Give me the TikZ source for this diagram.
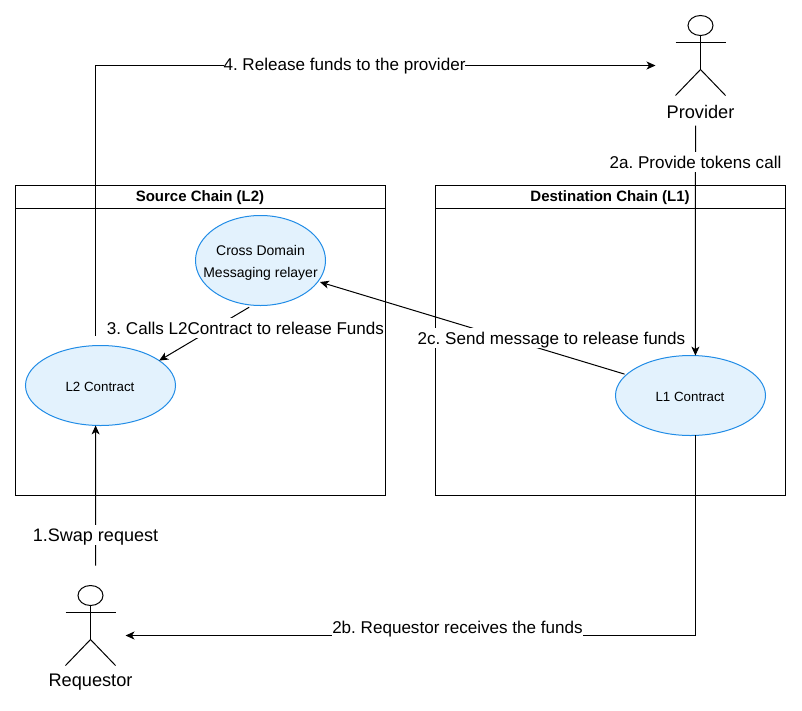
\documentclass[tikz,border=0pt]{standalone}
\usepackage{fontspec}
\setmainfont{Liberation Sans}
\usetikzlibrary{shapes.geometric, arrows.meta}
\definecolor{ChainFill}{RGB}{227,242,253}
\definecolor{ChainEdge}{RGB}{33,140,230}
\frenchspacing
\begin{document}
\begin{tikzpicture}[x=1pt, y=-1pt, shift={(0.5,0.5)},
          lane/.style={rectangle, draw=black, line width=1pt, inner sep=0pt, outer sep=0pt},
          lanetitle/.style={font=\fontsize{15}{17}\selectfont\bfseries, inner sep=0pt},
          contract/.style={ellipse, draw=ChainEdge, fill=ChainFill, line width=1pt, inner sep=0pt, outer sep=0pt},
          contracttext/.style={align=center, inner sep=0pt, font=\fontsize{13.33}{22}\selectfont},
          actor/.style={rectangle, minimum width=50pt, minimum height=80pt, inner sep=0pt, outer sep=0pt},
          actorlabel/.style={font=\fontsize{18.2}{21}\selectfont, inner sep=0pt},
          steplabel/.style={fill=white, font=\fontsize{17.07}{20}\selectfont, inner sep=0pt,
                      minimum height=20pt, text height=15pt, text depth=2pt},
          arr/.style={-{Stealth[length=9pt, width=8pt, inset=2.5pt]}, draw=black, line width=1pt},
          figure/.style={draw=black, line width=1pt}
        ]
        \useasboundingbox (-0.5,-0.5) rectangle (801.5,709.5);

        % chains
        \node[lane, minimum width=370pt, minimum height=310pt] (srcchain) at (200,340) {};
        \node[lane, minimum width=350pt, minimum height=310pt] (dstchain) at (610,340) {};
        \coordinate (srcrule) at (385,208);
        \coordinate (dstrule) at (785,208);
        \draw[figure] (srcchain.west |- srcrule) -- (srcrule);
        \draw[figure] (dstchain.west |- dstrule) -- (dstrule);
        \node[lanetitle] (srctitle) at (199.5,197.5) {Source Chain (L2)};
        \node[lanetitle] (dsttitle) at (609.5,197.5) {Destination Chain (L1)};

        \node[contract, minimum width=130pt, minimum height=90pt] (relayer) at (260,260) {};
        \node[contracttext, font=\fontsize{14}{22}\selectfont] (relayertext) at (260,262)
              {Cross Domain\\Messaging relayer};
        \node[contract, minimum width=150pt, minimum height=80pt] (l2c) at (100,385) {};
        \node[contracttext] (l2text) at (99.5,386.5) {L2 Contract};
        \node[contract, minimum width=150pt, minimum height=80pt] (l1c) at (690,395) {};
        \node[contracttext] (l1text) at (689.5,396.5) {L1 Contract};

        % actors
        \node[actor] (provider) at (700,55) {};
        \node[actor] (requestor) at (90,625) {};
        \foreach \who/\ax/\ay in {provider/700/55, requestor/90/625} {
          \draw[figure] (\ax,\ay-30) ellipse [x radius=12.5pt, y radius=10pt];
          \draw[figure] (\ax,\ay-20) -- (\ax,\ay+14);
          \draw[figure] (\who.west |- {(\ax,\ay-13)}) -- (\who.east |- {(\ax,\ay-13)});
          \draw[figure] (\who.south west) -- (\ax,\ay+14) -- (\who.south east);
        }
        \node[actorlabel] (providername) at (700,111.5) {Provider};
        \node[actorlabel] (requestorname) at (90,682) {Requestor};

        % free ends of connectors
        \coordinate (swapout) at (95,565);
        \coordinate (releaseout) at (95,335);
        \coordinate (releasein) at (655,65);
        \coordinate (provideout) at (695,125);
        \coordinate (receivein) at (125,635);

        \draw[arr] (swapout) -- (l2c.-97);
        \draw[arr] (releaseout) |- (releasein);
        \draw[arr] (provideout) -- (l1c.83);
        \draw[arr] (l1c.-83) |- (receivein);
        \draw[arr, shorten <=2pt, shorten >=2pt] (l1c.162) -- (relayer.-20);
        \draw[arr, shorten <=4pt] (relayer.-100) -- (l2c.23);

        \node[steplabel, font=\fontsize{18.05}{20}\selectfont] (swaplbl) at (95,534.5) {1.Swap request};
        \node[steplabel] (providelbl) at (695,161.5) {2a. Provide tokens call};
        \node[steplabel] (receivelbl) at (457,626.5) {2b. Requestor receives the funds};
        \node[steplabel] (messagelbl) at (551,337.5) {2c. Send message to release funds};
        \node[steplabel] (callslbl) at (245,327.5) {3. Calls L2Contract to release Funds};
        \node[steplabel] (releaselbl) at (344,63) {4. Release funds to the provider};
      \end{tikzpicture}
\end{document}
